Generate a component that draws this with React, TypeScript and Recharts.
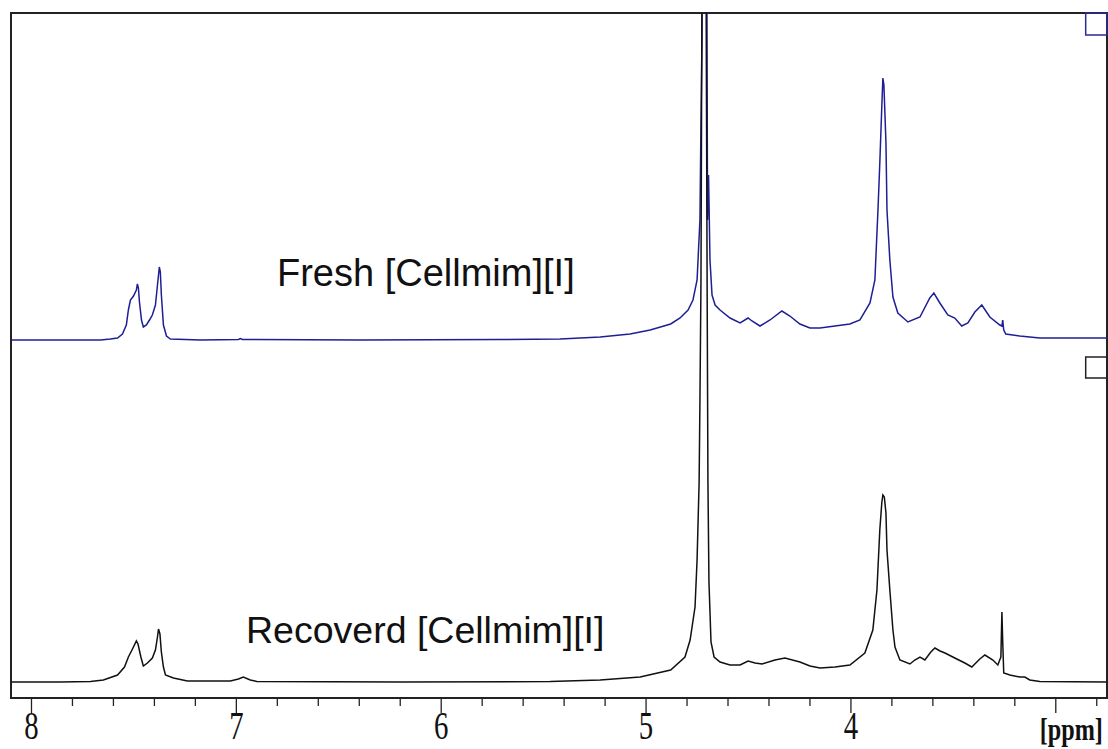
import { Line, LineChart, ReferenceArea, XAxis, YAxis } from "recharts";

// chemical shift (ppm) and intensity above each trace's baseline
const freshPpm = [
  8.098, 7.859, 7.663, 7.615, 7.58, 7.556, 7.537, 7.527, 7.517, 7.502, 7.488, 7.483, 7.478, 7.473, 7.463,
  7.454, 7.439, 7.424, 7.41, 7.395, 7.385, 7.376, 7.371, 7.366, 7.356, 7.341, 7.322, 7.176, 6.99, 6.98,
  6.97, 6.4, 5.712, 5.42, 5.224, 5.078, 4.98, 4.88, 4.834, 4.795, 4.771, 4.751, 4.737, 4.732, 4.727,
  4.722, 4.712, 4.705, 4.7, 4.695, 4.688, 4.678, 4.663, 4.639, 4.59, 4.541, 4.502, 4.483, 4.444, 4.395,
  4.337, 4.298, 4.249, 4.2, 4.151, 4.078, 4.005, 3.956, 3.907, 3.883, 3.868, 3.859, 3.849, 3.844, 3.839,
  3.829, 3.824, 3.81, 3.795, 3.771, 3.722, 3.663, 3.615, 3.595, 3.566, 3.527, 3.493, 3.459, 3.429, 3.395,
  3.361, 3.322, 3.273, 3.263, 3.259, 3.254, 3.244, 3.176, 3.127, 3.078, 2.98, 2.751,
];
const freshIntensity = [
  0, 0, 0, 1, 2, 6, 15, 30, 40, 44, 50, 56, 52, 38, 20,
  13, 15, 20, 25, 35, 55, 73, 68, 45, 15, 4, 1, 0, 0.5, 1.5,
  0.5, 0, 0.5, 1, 3, 6, 10, 16, 22, 30, 40, 60, 120, 217, 300,
  700, 700, 500, 120, 165, 80, 45, 35, 30, 22, 17, 22, 19, 14, 20,
  29, 24, 16, 12, 12, 14, 16, 20, 37, 60, 130, 177, 235, 262, 255,
  197, 130, 80, 43, 27, 18, 23, 42, 47, 37, 25, 22, 14, 17, 28,
  35, 23, 15, 14, 20, 10, 6, 4, 3, 2, 2, 2,
];

const recoveredPpm = [
  8.098, 7.859, 7.712, 7.649, 7.58, 7.546, 7.527, 7.507, 7.488, 7.48, 7.466, 7.454, 7.434, 7.41, 7.395,
  7.385, 7.38, 7.373, 7.366, 7.356, 7.346, 7.307, 7.239, 7.029, 6.99, 6.966, 6.932, 6.9, 6.2, 5.468,
  5.224, 5.029, 4.88, 4.81, 4.785, 4.761, 4.751, 4.741, 4.737, 4.732, 4.727, 4.707, 4.702, 4.698, 4.693,
  4.683, 4.668, 4.639, 4.59, 4.541, 4.502, 4.468, 4.434, 4.371, 4.322, 4.249, 4.2, 4.151, 4.078, 4.005,
  3.932, 3.893, 3.873, 3.859, 3.849, 3.844, 3.837, 3.829, 3.824, 3.81, 3.795, 3.785, 3.761, 3.712, 3.688,
  3.663, 3.639, 3.61, 3.59, 3.565, 3.541, 3.493, 3.444, 3.41, 3.371, 3.346, 3.307, 3.283, 3.268, 3.263,
  3.259, 3.254, 3.224, 3.176, 3.151, 3.127, 3.078, 2.751,
];
const recoveredIntensity = [
  0, 0, 0.5, 2, 7, 15, 25, 33, 41, 38, 25, 16, 19, 24, 32,
  45, 53, 48, 30, 15, 7, 4, 1, 1, 3, 5, 2, 0.5, 0, 0.5,
  2, 5, 12, 25, 42, 75, 122, 200, 282, 400, 700, 700, 400, 200, 100,
  40, 25, 20, 17, 17, 21, 19, 18, 22, 24, 20, 16, 14, 15, 17,
  29, 52, 92, 152, 180, 187, 185, 169, 132, 92, 52, 35, 22, 18, 22,
  25, 22, 30, 34, 31, 29, 24, 19, 15, 23, 27, 22, 17, 25, 70,
  40, 9, 7, 5, 5, 2, 0.5, 0,
];

const xTicks = [
  8, 7.8, 7.6, 7.4, 7.2, 7, 6.8, 6.6, 6.4, 6.2, 6, 5.8, 5.6, 5.4, 5.2, 5, 4.8, 4.6, 4.4, 4.2, 4, 3.8, 3.6,
  3.4, 3.2, 3, 2.8,
];
const majorTicks = [8, 7, 6, 5, 4, 3];
const majorLabels = ["8", "7", "6", "5", "4", "[ppm]"];

const FRESH_OFFSET = 358;
const RECOVERED_OFFSET = 16;

const freshData = freshPpm.map((ppm, i) => ({ ppm, v: freshIntensity[i] + FRESH_OFFSET }));
const recoveredData = recoveredPpm.map((ppm, i) => ({ ppm, v: recoveredIntensity[i] + RECOVERED_OFFSET }));

function PpmTick({ x, y, payload }: { x?: number; y?: number; payload?: { value: number } }) {
  const v = Math.round((payload?.value ?? 0) * 10) / 10;
  const idx = majorTicks.indexOf(v);
  const major = idx >= 0;
  const isUnit = idx === majorTicks.length - 1;
  return (
    <g transform={`translate(${x},${y})`}>
      <line y1={0} y2={major ? 15 : 8} stroke="#222" strokeWidth={1.3} />
      {major && !isUnit && (
        <text
          transform="scale(0.72,1)"
          y={41}
          textAnchor="middle"
          fontFamily="'Liberation Serif', 'Times New Roman', serif"
          fontSize={40}
          fill="#111"
        >
          {majorLabels[idx]}
        </text>
      )}
      {isUnit && (
        <text
          transform="translate(-16,0) scale(0.78,1)"
          y={42}
          textAnchor="start"
          fontFamily="'Liberation Serif', 'Times New Roman', serif"
          fontWeight="bold"
          fontSize={31}
          fill="#111"
        >
          {majorLabels[idx]}
        </text>
      )}
    </g>
  );
}

export default function App() {
  return (
    <div style={{ position: "absolute", left: 0, top: 0, width: 1108, height: 749, background: "#fff" }}>
      <LineChart width={1108} height={749} margin={{ top: 13, right: 1, left: 11, bottom: 0 }}>
        <XAxis
          dataKey="ppm"
          type="number"
          domain={[2.75, 8.1]}
          reversed
          allowDataOverflow
          ticks={xTicks}
          interval={0}
          tick={<PpmTick />}
          tickLine={false}
          axisLine={false}
          tickSize={0}
          tickMargin={0}
          height={51}
        />
        <YAxis type="number" domain={[0, 685]} allowDataOverflow hide />
        <ReferenceArea x1={8.1} x2={2.75} y1={0} y2={685} fill="none" stroke="#222" strokeWidth={2} />
        <ReferenceArea x1={2.854} x2={2.75} y1={663} y2={685} fill="none" stroke="#2a2a9a" strokeWidth={1.5} />
        <ReferenceArea x1={2.854} x2={2.75} y1={320} y2={341} fill="none" stroke="#222" strokeWidth={1.5} />
        <Line
          data={freshData}
          dataKey="v"
          type="linear"
          stroke="#1f1f95"
          strokeWidth={1.5}
          dot={false}
          isAnimationActive={false}
        />
        <Line
          data={recoveredData}
          dataKey="v"
          type="linear"
          stroke="#111"
          strokeWidth={1.5}
          dot={false}
          isAnimationActive={false}
        />
      </LineChart>
      <svg
        width={1108}
        height={749}
        style={{ position: "absolute", left: 0, top: 0, pointerEvents: "none" }}
      >
        <text x={277} y={286} fontFamily="'Liberation Sans', Arial, sans-serif" fontSize={38} fill="#111">
          Fresh [Cellmim][I]
        </text>
        <text x={246} y={643} fontFamily="'Liberation Sans', Arial, sans-serif" fontSize={37.5} fill="#111">
          Recoverd [Cellmim][I]
        </text>
      </svg>
    </div>
  );
}
